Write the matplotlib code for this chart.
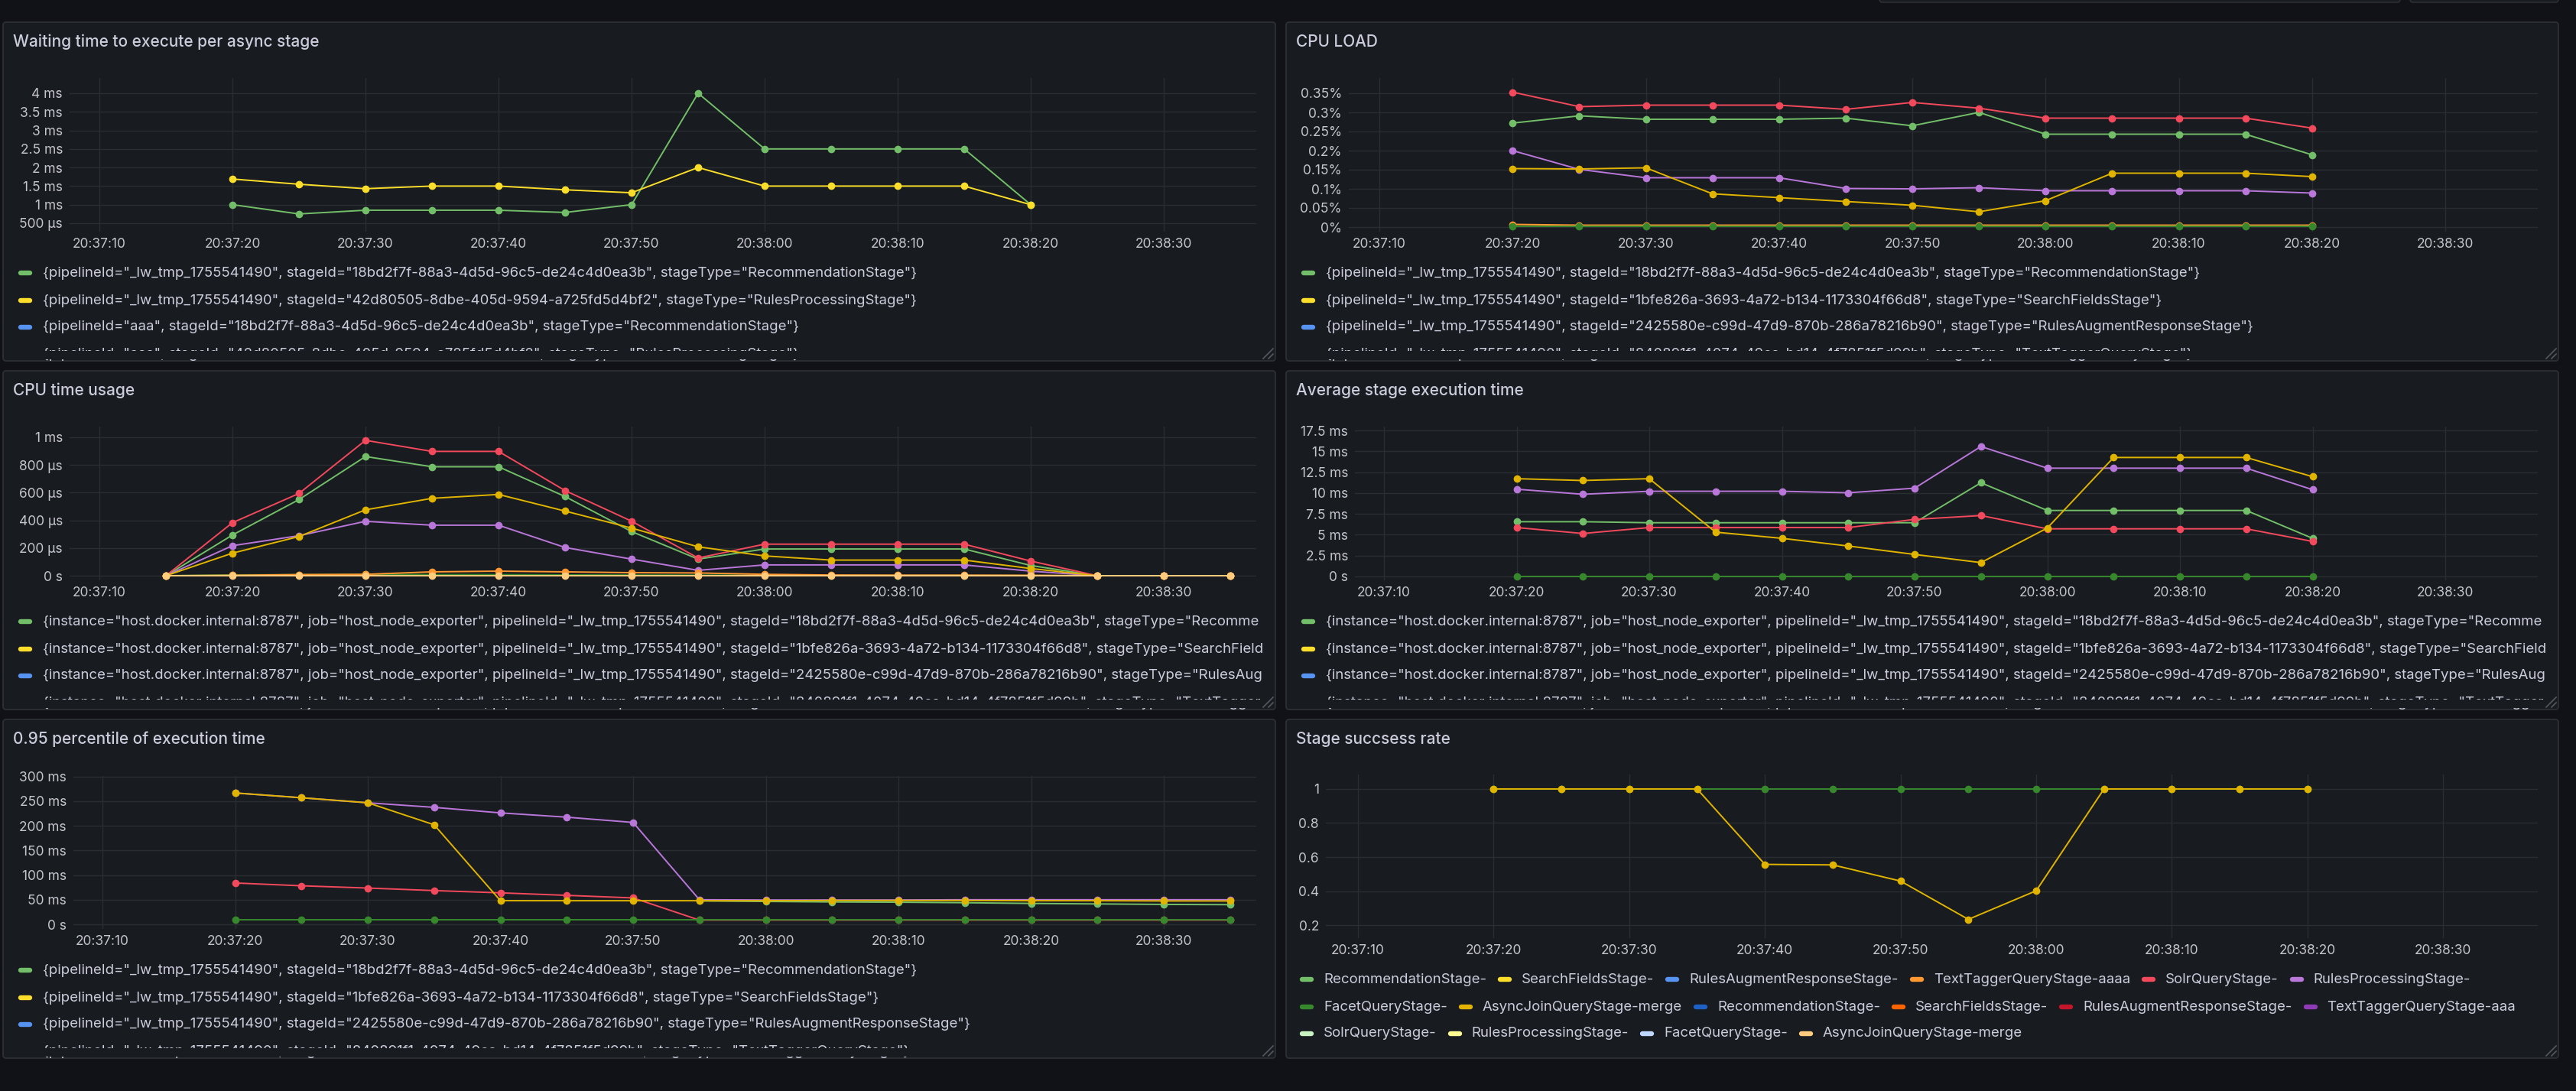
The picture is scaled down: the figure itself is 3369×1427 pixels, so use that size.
import matplotlib
matplotlib.use('Agg')
import matplotlib.pyplot as plt
from matplotlib.patches import FancyBboxPatch, Rectangle
from matplotlib.font_manager import FontProperties
import numpy as np

plt.rcParams['font.family'] = ['Inter', 'DejaVu Sans']

# ---- data ----
time_labels = ['20:37:10', '20:37:20', '20:37:30', '20:37:40', '20:37:50',
               '20:38:00', '20:38:10', '20:38:20', '20:38:30']
# seconds after 20:37:10
t_main = [10, 15, 20, 25, 30, 35, 40, 45, 50, 55, 60, 65, 70]
t_cpu = [5, 10, 15, 20, 25, 30, 35, 40, 45, 50, 55, 60, 65, 70, 75, 80, 85]
t_p95 = [10, 15, 20, 25, 30, 35, 40, 45, 50, 55, 60, 65, 70, 75, 80, 85]

# waiting time (ms)
wait_rec = [1.0, 0.75, 0.85, 0.85, 0.85, 0.79, 1.0, 4.0, 2.5, 2.5, 2.5, 2.5, 1.0]
wait_rules = [1.69, 1.55, 1.43, 1.5, 1.5, 1.40, 1.32, 2.0, 1.5, 1.5, 1.5, 1.5, 1.0]

# cpu load (%)
load_red = [0.353, 0.315, 0.319, 0.319, 0.319, 0.308, 0.326, 0.311, 0.285, 0.285, 0.285, 0.285, 0.259]
load_green = [0.272, 0.291, 0.282, 0.282, 0.282, 0.285, 0.265, 0.300, 0.243, 0.243, 0.243, 0.243, 0.189]
load_purple = [0.200, 0.151, 0.129, 0.129, 0.129, 0.101, 0.100, 0.103, 0.095, 0.095, 0.095, 0.095, 0.089]
load_yellow = [0.153, 0.152, 0.155, 0.087, 0.077, 0.067, 0.057, 0.040, 0.069, 0.141, 0.141, 0.141, 0.132]
load_orange = [0.007, 0.005, 0.005, 0.005, 0.005, 0.005, 0.005, 0.005, 0.005, 0.005, 0.005, 0.005, 0.005]
load_dkgreen = [0.003, 0.003, 0.003, 0.003, 0.003, 0.003, 0.003, 0.003, 0.003, 0.003, 0.003, 0.003, 0.003]

# cpu time (µs)
cpu_red = [0, 383, 594, 978, 898, 898, 615, 394, 128, 228, 228, 228, 228, 106, 0, 0, 0]
cpu_green = [0, 294, 550, 861, 787, 787, 572, 319, 120, 193, 193, 193, 193, 74, 0, 0, 0]
cpu_yellow = [0, 163, 283, 476, 559, 587, 467, 344, 209, 143, 113, 113, 113, 52, 0, 0, 0]
cpu_purple = [0, 217, 289, 393, 365, 365, 204, 120, 39, 78, 78, 78, 78, 33, 0, 0, 0]
cpu_orange = [0, 3, 8, 10, 28, 33, 28, 22, 20, 10, 5, 4, 4, 3, 0, 0, 0]
cpu_dkgreen = [0, 6, 8, 9, 8, 8, 6, 5, 4, 3, 2, 2, 2, 1, 0, 0, 0]
cpu_ltorange = [0, 0, 0, 0, 0, 0, 0, 0, 0, 0, 0, 0, 0, 0, 0, 0, 0]

# average execution time (ms)
avg_yellow = [11.72, 11.50, 11.72, 5.31, 4.57, 3.65, 2.64, 1.66, 5.80, 14.26, 14.26, 14.26, 11.96]
avg_purple = [10.46, 9.85, 10.21, 10.21, 10.21, 10.03, 10.58, 15.58, 12.98, 12.98, 12.98, 12.98, 10.40]
avg_green = [6.56, 6.56, 6.44, 6.44, 6.44, 6.44, 6.44, 11.23, 7.91, 7.91, 7.91, 7.91, 4.57]
avg_red = [5.86, 5.15, 5.86, 5.86, 5.86, 5.86, 6.84, 7.30, 5.71, 5.71, 5.71, 5.71, 4.20]
avg_dkgreen = [0, 0, 0, 0, 0, 0, 0, 0, 0, 0, 0, 0, 0]

# 0.95 percentile (ms)
p95_purple = [266.6, 256.9, 246.7, 237.4, 226.2, 217.5, 206.8, 50, 49.5, 49.5, 49.5, 50, 50, 50, 50, 50]
p95_green = [np.nan, np.nan, np.nan, np.nan, np.nan, np.nan, np.nan, 47.6, 46.5, 45.5, 45, 44, 42.5, 41.5, 40.5, 40]
p95_yellow = [266.6, 256.9, 246.7, 202.1, 48.1, 48, 48, 48, 48, 48.5, 48.5, 48.5, 48, 48, 47.5, 47.5]
p95_red = [84, 78.3, 73.7, 68.6, 64, 58.9, 53.7, 8.7, 8.7, 8.7, 8.7, 8.7, 8.7, 8.7, 8.7, 8.7]
p95_dkgreen = [8.7, 8.7, 8.7, 8.7, 8.7, 8.7, 8.7, 8.7, 8.7, 8.7, 8.7, 8.7, 8.7, 8.7, 8.7, 8.7]

# success rate
ok_dkgreen = [1, 1, 1, 1, 1, 1, 1, 1, 1, 1, 1, 1, 1]
ok_yellow = [1, 1, 1, 1, 0.557, 0.554, 0.459, 0.234, 0.402, 1, 1, 1, 1]

# legend texts
lw_pid = 'pipelineId="_lw_tmp_1755541490"'
host = 'instance="host.docker.internal:8787", job="host_node_exporter", '
legend_wait = [
    '{' + lw_pid + ', stageId="18bd2f7f-88a3-4d5d-96c5-de24c4d0ea3b", stageType="RecommendationStage"}',
    '{' + lw_pid + ', stageId="42d80505-8dbe-405d-9594-a725fd5d4bf2", stageType="RulesProcessingStage"}',
    '{pipelineId="aaa", stageId="18bd2f7f-88a3-4d5d-96c5-de24c4d0ea3b", stageType="RecommendationStage"}',
    '{pipelineId="aaa", stageId="42d80505-8dbe-405d-9594-a725fd5d4bf2", stageType="RulesProcessingStage"}',
]
stage_ids = [
    'stageId="18bd2f7f-88a3-4d5d-96c5-de24c4d0ea3b", stageType="RecommendationStage"}',
    'stageId="1bfe826a-3693-4a72-b134-1173304f66d8", stageType="SearchFieldsStage"}',
    'stageId="2425580e-c99d-47d9-870b-286a78216b90", stageType="RulesAugmentResponseStage"}',
    'stageId="840891f1-4074-49ca-bd14-4f7851f5d99b", stageType="TextTaggerQueryStage"}',
]
legend_short = ['{' + lw_pid + ', ' + s for s in stage_ids]
legend_host = ['{' + host + lw_pid + ', ' + s for s in stage_ids]
legend_ok = [
    ['RecommendationStage-', 'SearchFieldsStage-', 'RulesAugmentResponseStage-',
     'TextTaggerQueryStage-aaaa', 'SolrQueryStage-', 'RulesProcessingStage-'],
    ['FacetQueryStage-', 'AsyncJoinQueryStage-merge', 'RecommendationStage-',
     'SearchFieldsStage-', 'RulesAugmentResponseStage-', 'TextTaggerQueryStage-aaa'],
    ['SolrQueryStage-', 'RulesProcessingStage-', 'FacetQueryStage-', 'AsyncJoinQueryStage-merge'],
]

# grafana classic palette
GREEN, YELLOW, BLUE, ORANGE = '#73BF69', '#FADE2A', '#5794F2', '#FF9830'
RED, PURPLE = '#F2495C', '#B877D9'
DKGREEN, DKYELLOW, DKBLUE, DKORANGE = '#37872D', '#E0B400', '#1F60C4', '#FA6400'
DKRED, DKPURPLE = '#C4162A', '#8F3BB8'
LTGREEN, LTYELLOW, LTBLUE, LTORANGE = '#C8F2C2', '#FFFB95', '#C0D8FF', '#FFCB7D'
legend_ok_colors = [[GREEN, YELLOW, BLUE, ORANGE, RED, PURPLE],
                    [DKGREEN, DKYELLOW, DKBLUE, DKORANGE, DKRED, DKPURPLE],
                    [LTGREEN, LTYELLOW, LTBLUE, LTORANGE]]

PAGE_BG = '#111217'
PANEL_BG = '#181B1F'
BORDER = '#2C2F35'
GRID = '#2A2D32'
TEXT = '#CCCCDC'
TICK = '#C4C5CD'
LEG_SIZE = 13.4

W, H = 3369, 1427
fig = plt.figure(figsize=(W / 100, H / 100), dpi=100, facecolor=PAGE_BG)
bg = fig.add_axes([0, 0, 1, 1], zorder=0)
bg.set_xlim(0, W)
bg.set_ylim(H, 0)
bg.axis('off')
bg.set_facecolor(PAGE_BG)
renderer = fig.canvas.get_renderer()
leg_font = FontProperties(family=['Inter', 'DejaVu Sans'], size=LEG_SIZE)


def text_width(s):
    w, h, d = renderer.get_text_width_height_descent(s, leg_font, ismath=False)
    return w


# toolbar stubs at the very top
for l, r in [(2458, 3139), (3152, 3346)]:
    bg.add_patch(FancyBboxPatch((l, -20), r - l, 23, boxstyle='round,pad=0,rounding_size=4',
                                facecolor=PANEL_BG, edgecolor=BORDER, lw=1.2))

cols = [(4, 1668), (1682, 3346)]
rows = [(29, 472), (485, 928), (941, 1384)]


def panel(ci, ri, title):
    l, r = cols[ci]
    t, b = rows[ri]
    bg.add_patch(FancyBboxPatch((l, t), r - l, b - t, boxstyle='round,pad=0,rounding_size=4',
                                facecolor=PANEL_BG, edgecolor=BORDER, lw=1.3, zorder=1))
    bg.text(l + 13, t + 26, title, color=TEXT, fontsize=15, fontweight='medium',
            va='center', ha='left', zorder=2)
    # resize handle
    bg.plot([r - 16, r - 3], [b - 3, b - 16], color='#55585f', lw=1.2, zorder=5)
    bg.plot([r - 9, r - 3], [b - 3, b - 9], color='#55585f', lw=1.2, zorder=5)
    return l, r, t, b


def plot_axes(box, x0, step, ylim, yticks, ylabels):
    l, t, r, b = box
    ax = fig.add_axes([l / W, 1 - b / H, (r - l) / W, (b - t) / H], zorder=2)
    ax.patch.set_alpha(0)
    pps = step / 10.0
    ax.set_xlim((l - x0) / pps, (r - x0) / pps)
    ax.set_ylim(*ylim)
    ax.set_xticks([0, 10, 20, 30, 40, 50, 60, 70, 80])
    ax.set_xticklabels(time_labels)
    ax.set_yticks(yticks)
    ax.set_yticklabels(ylabels)
    for s in ax.spines.values():
        s.set_visible(False)
    ax.tick_params(length=0, labelsize=12.5, labelcolor=TICK)
    ax.tick_params(axis='x', pad=6)
    ax.tick_params(axis='y', pad=6.5)
    ax.grid(True, color=GRID, lw=1.0)
    ax.set_axisbelow(True)
    return ax


def series(ax, t, v, color, lw=1.4, ms=6):
    ax.plot(t, v, color=color, lw=lw, marker='o', ms=ms, mec=color, mfc=color,
            solid_joinstyle='round', clip_on=False)


def legend_list(pl, pr, pb, ys, labels, colors, cut_y):
    x_text = pl + 52
    max_w = pr - 12 - x_text
    for y, lab, c in zip(ys, labels, colors):
        bg.plot([pl + 23, pl + 35], [y, y], color=c, lw=4.6, solid_capstyle='round', zorder=2)
        # grafana cuts long legend lines at the panel edge
        while text_width(lab) > max_w:
            lab = lab[:-1]
        bg.text(x_text, y, lab, color=TEXT, fontproperties=leg_font, va='center', ha='left', zorder=2)
    # the legend is scrollable: the last row is half hidden
    bg.add_patch(Rectangle((pl + 2, cut_y), pr - pl - 4, pb - cut_y - 2,
                           facecolor=PANEL_BG, edgecolor='none', zorder=3))


# ---- panel 1: waiting time ----
pl, pr, pt, pb = panel(0, 0, 'Waiting time to execute per async stage')
ax = plot_axes((91, 102, 1643, 303), 130, 174.0, (0.273, 4.41),
               [0.5, 1, 1.5, 2, 2.5, 3, 3.5, 4],
               ['500 µs', '1 ms', '1.5 ms', '2 ms', '2.5 ms', '3 ms', '3.5 ms', '4 ms'])
series(ax, t_main, wait_rec, GREEN)
series(ax, t_main, wait_rules, YELLOW)
legend_list(pl, pr, pb, [357, 393, 428, 463], legend_wait, [GREEN, YELLOW, BLUE, ORANGE], 459)

# ---- panel 2: cpu load ----
pl, pr, pt, pb = panel(1, 0, 'CPU LOAD')
ax = plot_axes((1764, 102, 3319, 303), 1804, 174.25, (-0.012, 0.39),
               [0, 0.05, 0.1, 0.15, 0.2, 0.25, 0.3, 0.35],
               ['0%', '0.05%', '0.1%', '0.15%', '0.2%', '0.25%', '0.3%', '0.35%'])
series(ax, t_main, load_green, GREEN)
series(ax, t_main, load_orange, ORANGE)
series(ax, t_main, load_red, RED)
series(ax, t_main, load_purple, PURPLE)
series(ax, t_main, load_dkgreen, DKGREEN)
series(ax, t_main, load_yellow, DKYELLOW)
legend_list(pl, pr, pb, [357, 393, 428, 463], legend_short, [GREEN, YELLOW, BLUE, ORANGE], 459)

# ---- panel 3: cpu time usage ----
pl, pr, pt, pb = panel(0, 1, 'CPU time usage')
ax = plot_axes((91, 558, 1643, 759), 130, 174.0, (-33, 1077),
               [0, 200, 400, 600, 800, 1000],
               ['0 s', '200 µs', '400 µs', '600 µs', '800 µs', '1 ms'])
series(ax, t_cpu, cpu_green, GREEN)
series(ax, t_cpu, cpu_red, RED)
series(ax, t_cpu, cpu_purple, PURPLE)
series(ax, t_cpu, cpu_dkgreen, DKGREEN)
series(ax, t_cpu, cpu_yellow, DKYELLOW)
series(ax, t_cpu, cpu_orange, ORANGE)
series(ax, t_cpu, cpu_ltorange, LTORANGE)
legend_list(pl, pr, pb, [813, 849, 884, 919], legend_host, [GREEN, YELLOW, BLUE, ORANGE], 915)

# ---- panel 4: average execution time ----
pl, pr, pt, pb = panel(1, 1, 'Average stage execution time')
ax = plot_axes((1772, 558, 3319, 759), 1810, 173.5, (-0.46, 17.96),
               [0, 2.5, 5, 7.5, 10, 12.5, 15, 17.5],
               ['0 s', '2.5 ms', '5 ms', '7.5 ms', '10 ms', '12.5 ms', '15 ms', '17.5 ms'])
series(ax, t_main, avg_green, GREEN)
series(ax, t_main, avg_red, RED)
series(ax, t_main, avg_purple, PURPLE)
series(ax, t_main, avg_dkgreen, DKGREEN)
series(ax, t_main, avg_yellow, DKYELLOW)
legend_list(pl, pr, pb, [813, 849, 884, 919], legend_host, [GREEN, YELLOW, BLUE, ORANGE], 915)

# ---- panel 5: 0.95 percentile ----
pl, pr, pt, pb = panel(0, 2, '0.95 percentile of execution time')
ax = plot_axes((96, 1015, 1643, 1215), 134, 173.5, (-9.2, 301),
               [0, 50, 100, 150, 200, 250, 300],
               ['0 s', '50 ms', '100 ms', '150 ms', '200 ms', '250 ms', '300 ms'])
series(ax, t_p95, p95_green, GREEN)
series(ax, t_p95, p95_red, RED)
series(ax, t_p95, p95_purple, PURPLE)
series(ax, t_p95, p95_dkgreen, DKGREEN)
series(ax, t_p95, p95_yellow, DKYELLOW)
legend_list(pl, pr, pb, [1269, 1305, 1340, 1375], legend_short, [GREEN, YELLOW, BLUE, ORANGE], 1371)

# ---- panel 6: success rate ----
pl, pr, pt, pb = panel(1, 2, 'Stage succsess rate')
ax = plot_axes((1734, 1013, 3319, 1227), 1776, 177.4, (0.124, 1.085),
               [0.2, 0.4, 0.6, 0.8, 1.0],
               ['0.2', '0.4', '0.6', '0.8', '1'])
series(ax, t_main, ok_dkgreen, DKGREEN)
series(ax, t_main, ok_yellow, DKYELLOW)

for y, labs, cs in zip([1281, 1317, 1352], legend_ok, legend_ok_colors):
    x = pl + 18
    for lab, c in zip(labs, cs):
        bg.plot([x + 3, x + 15], [y, y], color=c, lw=4.6, solid_capstyle='round', zorder=2)
        bg.text(x + 31, y, lab, color=TEXT, fontproperties=leg_font, va='center', ha='left', zorder=2)
        x = x + 31 + text_width(lab) + 15

fig.savefig('out.png', dpi=100, facecolor=PAGE_BG)
